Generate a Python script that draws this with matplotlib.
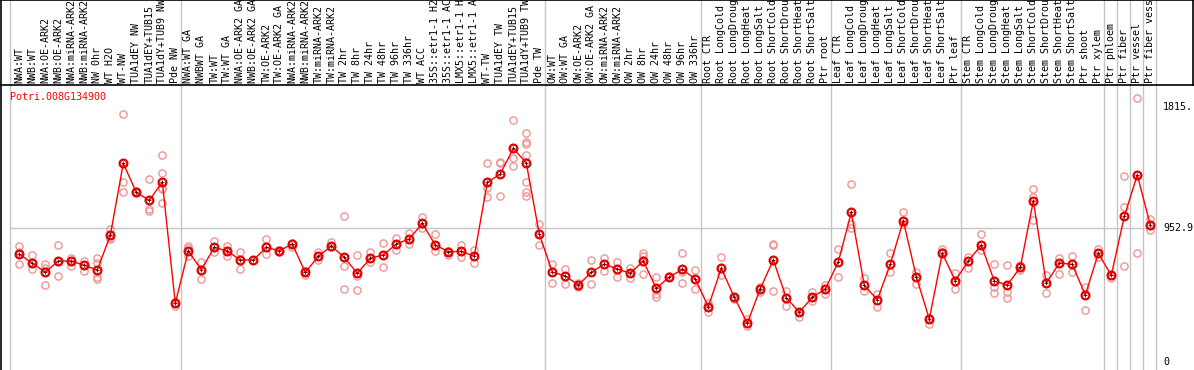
import matplotlib
matplotlib.use("Agg")
import matplotlib.pyplot as plt
import numpy as np

################################################## Data
gene_id = "Potri.008G134900"

sample_labels = [
    "NWA:WT", "NWB:WT", "NWA:OE-ARK2", "NWB:OE-ARK2", "NWA:miRNA-ARK2",
    "NWB:miRNA-ARK2", "NW 0hr", "WT H2O", "WT-NW", "TUA1dEY NW",
    "TUA1dEY+TUB15", "TUA1dY+TUB9 NW", "Pde NW",
    "NWA:WT GA", "NWBWT GA", "TW:WT", "TW:WT GA", "NWA:OE-ARK2 GA",
    "NWB:OE-ARK2 GA", "TW:OE-ARK2", "TW:OE-ARK2 GA", "NWA:miRNA-ARK2",
    "NWB:miRNA-ARK2", "TW:miRNA-ARK2", "TW:miRNA-ARK2", "TW 2hr", "TW 8hr",
    "TW 24hr", "TW 48hr", "TW 96hr", "TW 336hr", "WT ACC", "35S::etr1-1 H2",
    "35S::etr1-1 AC", "LMX5::etr1-1 H", "LMX5::etr1-1 A", "WT-TW",
    "TUA1dEY TW", "TUA1dEY+TUB15", "TUA1dY+TUB9 TW", "Pde TW",
    "OW:WT", "OW:WT GA", "OW:OE-ARK2", "OW:OE-ARK2 GA", "OW:miRNA-ARK2",
    "OW:miRNA-ARK2", "OW 2hr", "OW 8hr", "OW 24hr", "OW 48hr", "OW 96hr",
    "OW 336hr",
    "Root CTR", "Root LongCold", "Root LongDroug", "Root LongHeat",
    "Root LongSalt", "Root ShortCold", "Root ShortDrou", "Root ShortHeat",
    "Root ShortSalt", "Ptr root",
    "Leaf CTR", "Leaf LongCold", "Leaf LongDroug", "Leaf LongHeat",
    "Leaf LongSalt", "Leaf ShortCold", "Leaf ShortDrou", "Leaf ShortHeat",
    "Leaf ShortSalt", "Ptr leaf",
    "Stem CTR", "Stem LongCold", "Stem LongDroug", "Stem LongHeat",
    "Stem LongSalt", "Stem ShortCold", "Stem ShortDrou", "Stem ShortHeat",
    "Stem ShortSalt", "Ptr shoot", "Ptr xylem",
    "Ptr phloem", "Ptr fiber", "Ptr vessel", "Ptr fiber vess",
]

# last sample index of each group (separator drawn after it)
group_ends = [12, 40, 52, 62, 72, 83, 84, 85, 86, 87]

mean_values = [
    770, 703, 641, 720, 720, 689, 656, 903, 1416, 1209, 1152, 1283, 418,
    791, 658, 817, 791, 727, 727, 817, 793, 841, 639, 753, 827, 746, 632,
    739, 763, 841, 877, 988, 834, 786, 788, 755, 1280, 1340, 1523, 1418, 912,
    641, 613, 549, 639, 698, 663, 632, 720, 525, 606, 660, 592,
    394, 668, 461, 276, 523, 727, 458, 356, 461, 520,
    713, 1067, 546, 444, 696, 1007, 608, 306, 774, 580,
    720, 834, 577, 549, 675, 1147, 561, 706, 696, 477, 774,
    618, 1038, 1333, 976,
]

replicate_values = [
    [827, 786, 696], [763, 660, 703], [696, 672, 549], [831, 611, 720],
    [744, 684, 720], [722, 651, 689], [739, 703, 608, 592], [948, 874, 886],
    [1767, 1280, 1209], [1219, 1202], [1304, 1088, 1079],
    [1475, 1347, 1242, 1231, 1133], [430, 401],
    [829, 810, 755], [715, 592], [865, 782], [829, 755], [784, 663], [727],
    [877, 770], [798, 786], [846, 817], [649, 620], [784, 729], [855, 822],
    [1040, 682, 520], [763, 513, 613], [782, 715], [846, 675], [886, 798],
    [917, 839], [1036, 953], [912, 791], [791, 763], [834, 746], [801, 703],
    [1416, 1242, 1176], [1423, 1416, 1183], [1725, 1456, 1397],
    [1632, 1570, 1551, 1475, 1280, 1214, 1183], [984, 834],
    [698, 561], [663, 554], [561, 537], [727, 556], [739, 651], [710, 606],
    [668, 601], [774, 755, 625], [608, 485, 466], [611], [777, 644, 561],
    [656, 518],
    [418, 359], [746, 620], [466, 449], [304, 259], [537, 501],
    [839, 834, 506], [506, 401], [359, 323], [501, 435], [549, 482],
    [805, 603], [1269, 985, 953], [601, 506], [482, 390], [774, 639],
    [1071, 985], [644, 554], [316, 271], [805, 786], [634, 518],
    [751, 672], [910, 798], [696, 537, 489], [691, 501, 454], [691, 656],
    [1233, 1178, 1014], [620, 489], [744, 625], [753, 639], [535, 371],
    [805, 746],
    [601], [1326, 1102, 682], [1879, 774], [1019, 941],
]

scale_labels = ["1815.", "952.9", "0"]
scale_values = [1815.0, 952.9, 0.0]

################################################## Plot
W, H = 1194, 370
fig = plt.figure(figsize=(W / 100, H / 100), dpi=100)
ax = fig.add_axes([0, 0, 1, 1])
ax.set_axis_off()

# pixel layout: sample i centred at 19.3 + 13*i, value 0 at y=362, 0.1403 px/unit
ax.set_xlim((0 - 19.3) / 13, (W - 19.3) / 13)
ax.set_ylim((362 - H) / 0.1403, 362 / 0.1403)

grid_col = "#c4c4c4"
mono = "DejaVu Sans Mono"
fs = 7.2

# separators / grid
left_x = (10 - 19.3) / 13
ax.axvline(left_x, color=grid_col, lw=1, zorder=1)
for g in group_ends:
    ax.axvline(g + 0.4, color=grid_col, lw=1, zorder=1)
ax.hlines(scale_values[1], left_x, group_ends[-1] + 0.4, color=grid_col,
          lw=1, zorder=1)

# frame
lab_y = 1 - 85 / H
ax.plot([0, 1], [lab_y, lab_y], color="black", lw=1.2,
        transform=ax.transAxes, clip_on=False)
ax.plot([0.0008, 0.0008], [0, 1], color="black", lw=1.2,
        transform=ax.transAxes, clip_on=False)
ax.plot([0, 1], [0.999, 0.999], color="black", lw=1.2,
        transform=ax.transAxes, clip_on=False)
ax.plot([0.9994, 0.9994], [lab_y, 1], color="black", lw=1.2,
        transform=ax.transAxes, clip_on=False)

# sample labels
xtr = ax.get_xaxis_transform()
for i, lab in enumerate(sample_labels):
    ax.text(i, 1 - 83 / H, lab, rotation=90, ha="center", va="bottom",
            fontsize=fs, family=mono, color="black", transform=xtr)

# replicates
xs = np.arange(len(mean_values))
for i, reps in enumerate(replicate_values):
    ax.plot([i] * len(reps), reps, linestyle="none", marker="o", ms=5.2,
            mfc="none", mec="#ee9696", mew=1.0, zorder=2)

# mean line
ax.plot(xs, mean_values, color="red", lw=1.0, zorder=3)
ax.plot(xs, mean_values, linestyle="none", marker="o", ms=5.6, mfc="none",
        mec="#e00000", mew=1.6, zorder=4)
ax.plot(xs, mean_values, linestyle="none", marker="+", ms=3, color="#500000",
        mew=0.6, zorder=5)

# gene title
ax.text((10 - 19.3) / 13, 1 - 97 / H, gene_id, ha="left", va="center",
        fontsize=fs, family=mono, color="red", transform=xtr)

# scale labels on right
for lab, v in zip(scale_labels, scale_values):
    ax.text((1163 - 19.3) / 13, v, lab, ha="left", va="center",
            fontsize=fs, family=mono, color="black")

fig.savefig("out.png", dpi=100)
